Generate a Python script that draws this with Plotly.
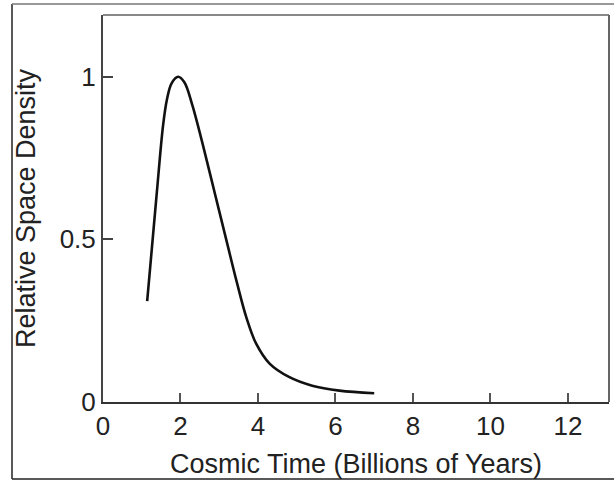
import plotly.graph_objects as go

# Data
time_gyr = [1.14, 1.39, 1.55, 1.65, 1.77, 1.94, 2.1, 2.3, 2.6, 2.9, 3.2, 3.45, 3.7, 3.95, 4.3, 4.8, 5.4, 6.1, 7.0]
density = [0.31, 0.645, 0.85, 0.93, 0.98, 1.0, 0.983, 0.915, 0.78, 0.635, 0.49, 0.37, 0.26, 0.18, 0.118, 0.077, 0.050, 0.035, 0.027]

x_ticks = [0, 2, 4, 6, 8, 10, 12]
y_ticks = [0, 0.5, 1]
y_tick_labels = ["0", "0.5", "1"]

W, H = 615, 481
L, R, T, B = 103, 6, 15, 79
pw, ph = W - L - R, H - T - B

def px(xp):
    return (xp - L) / pw

def py(yp):
    return (H - B - yp) / ph

fig = go.Figure()
fig.add_trace(go.Scatter(
    x=time_gyr, y=density, mode="lines",
    line=dict(color="#111111", width=2.6, shape="spline", smoothing=1.0),
    hoverinfo="skip", showlegend=False,
))

font = dict(family="Arial, Liberation Sans, sans-serif", color="#222222")

fig.update_layout(
    width=W, height=H,
    margin=dict(l=L, r=R, t=T, b=B),
    paper_bgcolor="white", plot_bgcolor="white",
    showlegend=False,
    xaxis=dict(
        range=[0, 13.06], tickvals=x_ticks, ticks="inside", ticklen=9, tickwidth=1.5,
        tickcolor="#555555", showgrid=False, zeroline=False,
        showline=True, linecolor="#333333", linewidth=2,
        tickfont=dict(size=26, **font),
        title=dict(text="Cosmic Time (Billions of Years)", font=dict(size=27, **font), standoff=14),
    ),
    yaxis=dict(
        range=[0, 1.19], tickvals=y_ticks, ticktext=y_tick_labels, ticks="inside", ticklen=10, tickwidth=1.5,
        tickcolor="#444444", showgrid=False, zeroline=False,
        showline=True, linecolor="#444444", linewidth=2,
        tickfont=dict(size=26, **font),
        title=dict(text="Relative Space Density", font=dict(size=27, **font), standoff=16),
    ),
)

# top and right frame lines of plot area
fig.add_shape(type="line", xref="paper", yref="paper", x0=0, x1=1, y0=1, y1=1,
              line=dict(color="#888888", width=2))
fig.add_shape(type="line", xref="paper", yref="paper", x0=1, x1=1, y0=0, y1=1,
              line=dict(color="#666666", width=2))

# outer image border
fig.add_shape(type="line", xref="paper", yref="paper", x0=px(12), x1=px(12), y0=py(479), y1=py(4),
              line=dict(color="#222222", width=1.5))
fig.add_shape(type="line", xref="paper", yref="paper", x0=px(12), x1=px(614), y0=py(4), y1=py(4),
              line=dict(color="#777777", width=1.5))
fig.add_shape(type="line", xref="paper", yref="paper", x0=px(12), x1=px(614), y0=py(479), y1=py(479),
              line=dict(color="#222222", width=1.5))

fig.write_html("out.html")
